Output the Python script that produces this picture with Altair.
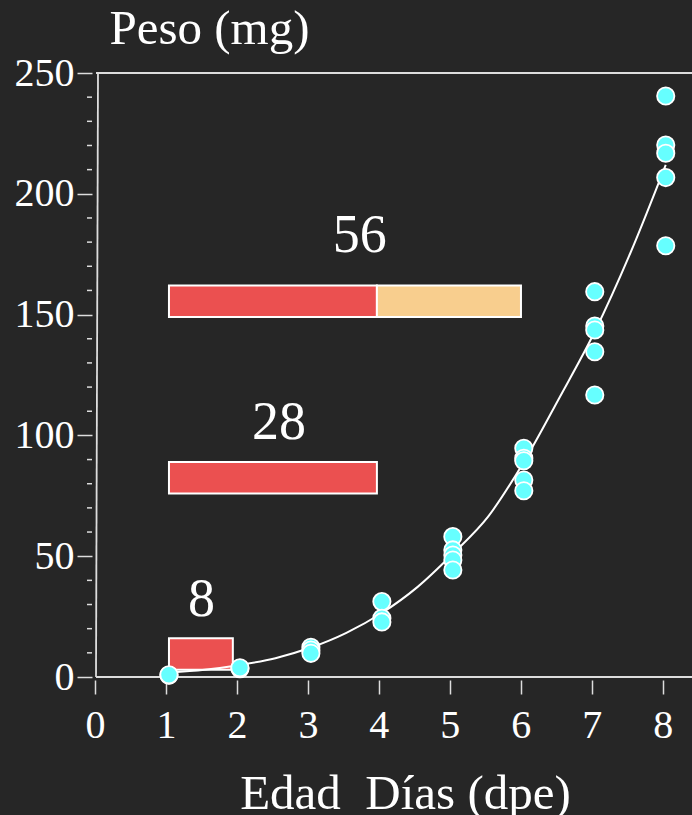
import altair as alt
import pandas as pd

# ---- data -------------------------------------------------------------
# individual weights per age (days post-eclosion)
day_1 = [0.7, 0.9]
day_2 = [3.4, 3.8]
day_3 = [12.3, 11.2, 9.8]
day_4 = [31.2, 24.3, 22.8]
day_5 = [58.1, 52.6, 50.5, 48.4, 44.3]
day_6 = [94.7, 90.5, 89.5, 81.5, 77.1]
day_7 = [159.5, 145.3, 143.6, 134.6, 116.7]
day_8 = [240.5, 220.2, 216.8, 206.7, 178.5]
weights_by_day = [day_1, day_2, day_3, day_4, day_5, day_6, day_7, day_8]

# growth curve
curve_x = [1.0, 1.5, 2.0, 2.5, 3.0, 3.5, 4.0, 4.5, 5.0, 5.5, 6.0, 6.5, 7.0, 7.5, 8.0]
curve_y = [1.8, 3.0, 5.0, 7.8, 12.2, 18.3, 26.5, 37.2, 51.0, 66.5, 89.0, 115.5, 143.0, 175.4, 212.0]

# interval bars
bar_start = [1.0, 1.0, 1.0, 3.93]
bar_end = [1.9, 3.93, 3.93, 5.96]
bar_low = [3, 76, 149, 149]
bar_high = [16, 89, 162, 162]
bar_kind = ["a", "a", "a", "b"]

# numbers written above the bars
label_text = ["8", "28", "56"]
label_x = [1.46, 2.55, 3.69]
label_y = [25.2, 98.4, 176.0]

# axes
x_ticks = [0, 1, 2, 3, 4, 5, 6, 7, 8]
y_ticks = [0, 50, 100, 150, 200, 250]
y_minor = [v for v in range(10, 250, 10) if v % 50 != 0]
X_MAX = 8.37
Y_MAX = 250

# ---- styling ----------------------------------------------------------
FONT = "'Liberation Serif', 'Times New Roman', Times, serif"
BG = "#262626"
AXIS_GREY = "#dddddd"
CYAN = "#66ffff"
RED = "#eb5050"
ORANGE = "#f8ce8e"

points = pd.DataFrame(
    [{"dia": d + 1, "peso": w} for d, ws in enumerate(weights_by_day) for w in ws]
)
curve = pd.DataFrame({"dia": curve_x, "peso": curve_y})
bars = pd.DataFrame(
    {"x0": bar_start, "x1": bar_end, "y0": bar_low, "y1": bar_high, "kind": bar_kind}
)
labels = pd.DataFrame({"t": label_text, "x": label_x, "y": label_y})
minor = pd.DataFrame({"v": y_minor})
frame = pd.DataFrame(
    {
        "x0": [0, 0, 0],
        "x1": [0, X_MAX, X_MAX],
        "y0": [0, 0, Y_MAX],
        "y1": [Y_MAX, 0, Y_MAX],
    }
)

x_scale = alt.Scale(domain=[0, X_MAX], nice=False, zero=False)
y_scale = alt.Scale(domain=[0, Y_MAX], nice=False)

x_axis = alt.Axis(
    values=x_ticks,
    format="d",
    offset=3,
    tickOffset=-3,
    domain=False,
    grid=False,
    ticks=True,
    tickSize=14,
    tickWidth=1.5,
    tickColor=AXIS_GREY,
    labelFont=FONT,
    labelFontSize=40,
    labelColor="white",
    labelPadding=11,
    labelFlush=False,
    labelOverlap=False,
    title="Edad\u00a0\u00a0Días (dpe)",
    titleFont=FONT,
    titleFontSize=49,
    titleFontWeight="normal",
    titleColor="white",
    titleAlign="center",
    titleBaseline="alphabetic",
    titleX=307,
    titleY=128,
)

y_axis = alt.Axis(
    values=y_ticks,
    format="d",
    offset=6,
    domain=False,
    grid=False,
    tickSize=15,
    tickWidth=1.5,
    tickColor=AXIS_GREY,
    labelFont=FONT,
    labelFontSize=40,
    labelColor="white",
    labelPadding=3,
    labelFlush=False,
    labelOverlap=False,
    title="Peso (mg)",
    titleFont=FONT,
    titleFontSize=49,
    titleFontWeight="normal",
    titleColor="white",
    titleAngle=0,
    titleAlign="center",
    titleBaseline="alphabetic",
    titleX=117,
    titleY=-30,
)

# frame lines (left, bottom, top)
frame_layer = (
    alt.Chart(frame)
    .mark_rule(color=AXIS_GREY, strokeWidth=1.8, xOffset=-2, x2Offset=0)
    .encode(
        x=alt.X("x0:Q", scale=x_scale, axis=x_axis),
        x2="x1:Q",
        y=alt.Y("y0:Q", scale=y_scale, axis=y_axis),
        y2="y1:Q",
    )
)

minor_layer = (
    alt.Chart(minor)
    .mark_rule(color=AXIS_GREY, strokeWidth=1.5)
    .encode(x=alt.value(-11), x2=alt.value(-6), y=alt.Y("v:Q", scale=y_scale))
)

bar_layer = (
    alt.Chart(bars)
    .mark_rect(stroke="white", strokeWidth=2)
    .encode(
        x=alt.X("x0:Q", scale=x_scale),
        x2="x1:Q",
        y=alt.Y("y0:Q", scale=y_scale),
        y2="y1:Q",
        fill=alt.Fill(
            "kind:N",
            scale=alt.Scale(domain=["a", "b"], range=[RED, ORANGE]),
            legend=None,
        ),
    )
)

line_layer = (
    alt.Chart(curve)
    .mark_line(color="white", strokeWidth=2, interpolate="monotone")
    .encode(x=alt.X("dia:Q", scale=x_scale), y=alt.Y("peso:Q", scale=y_scale))
)

point_layer = (
    alt.Chart(points)
    .mark_circle(color=CYAN, opacity=1, stroke="white", strokeWidth=1.8, size=300)
    .encode(x=alt.X("dia:Q", scale=x_scale), y=alt.Y("peso:Q", scale=y_scale))
)

text_layer = (
    alt.Chart(labels)
    .mark_text(font=FONT, fontSize=54, color="white", align="center", baseline="alphabetic")
    .encode(
        x=alt.X("x:Q", scale=x_scale),
        y=alt.Y("y:Q", scale=y_scale),
        text="t:N",
    )
)

chart = (
    alt.layer(frame_layer, minor_layer, bar_layer, line_layer, point_layer, text_layer)
    .properties(
        width=594,
        height=604,
        background=BG,
        padding={"left": 98, "top": 73, "right": 0, "bottom": 138},
        autosize=alt.AutoSizeParams(type="none"),
    )
    .configure_view(stroke=None)
)

chart.save("out.html", embed_options={"renderer": "svg", "actions": False})
